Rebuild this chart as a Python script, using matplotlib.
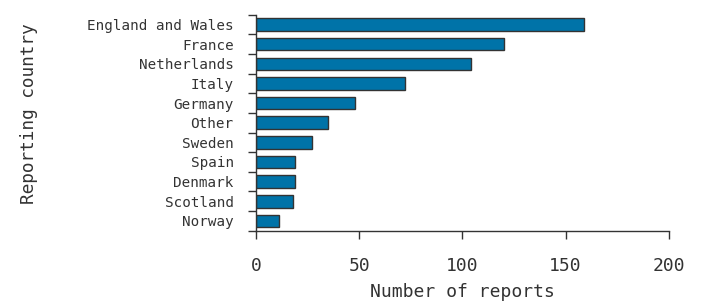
import numpy as np
import matplotlib
matplotlib.use("Agg")
import matplotlib.pyplot as plt

# Data
countries = ["England and Wales", "France", "Netherlands", "Italy", "Germany",
             "Other", "Sweden", "Spain", "Denmark", "Scotland", "Norway"]
reports = [159, 120, 104, 72, 48, 35, 27, 19, 19, 18, 11]

plt.rcParams['font.family'] = ['DejaVu Sans Mono']
ink = '#333333'

fig = plt.figure(figsize=(7.01, 3.03), dpi=100)
ax = fig.add_axes([0.365, 0.2386, 0.589, 0.7129])

# top category drawn first
y = np.arange(len(countries))[::-1]
ax.barh(y, reports, height=0.64, color='#0073A8', edgecolor=ink, linewidth=1.0)

ax.set_xlim(0, 200)
ax.set_ylim(-0.5, len(countries) - 0.5)
ax.set_xticks([0, 50, 100, 150, 200])

ax.set_yticks(y)
ax.set_yticklabels(countries, fontsize=10.3, color=ink)
ax.set_yticks(np.arange(-0.5, len(countries)), minor=True)
ax.tick_params(axis='y', which='major', length=0, pad=16)
ax.tick_params(axis='y', which='minor', length=6, width=1, color=ink)
ax.tick_params(axis='x', length=6, width=1, color=ink, labelsize=13,
               labelcolor=ink, pad=13)

for side in ['top', 'right']:
    ax.spines[side].set_visible(False)
for side in ['left', 'bottom']:
    ax.spines[side].set_color(ink)
    ax.spines[side].set_linewidth(1)

ax.set_xlabel("Number of reports", fontsize=13, color=ink, labelpad=6)
ax.set_ylabel("Reporting country", fontsize=12.8, color=ink)
ax.yaxis.set_label_coords(-0.528, 0.542)

fig.savefig("out.png", dpi=100)
